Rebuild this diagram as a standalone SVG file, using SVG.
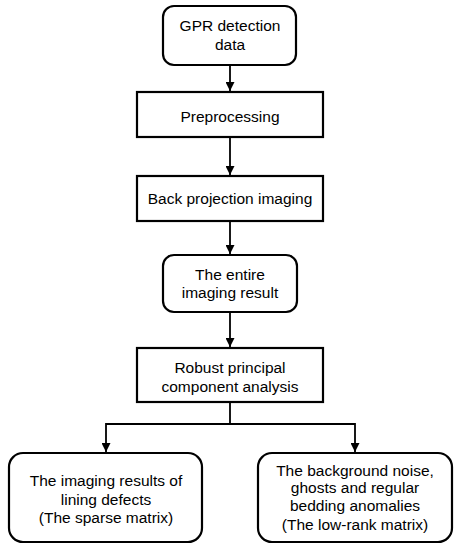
<svg xmlns="http://www.w3.org/2000/svg" width="458" height="550" viewBox="0 0 458 550">
<style>
.box{fill:#fff;stroke:#000;stroke-width:2.2}
.t{font-family:"Liberation Sans",Arial,sans-serif;font-size:15.5px;fill:#000;text-anchor:middle}
.c{fill:none;stroke:#000;stroke-width:1.8}
</style>
<defs>
<marker id="ah" viewBox="0 0 10 10" refX="10" refY="5" markerWidth="5" markerHeight="5" orient="auto" markerUnits="strokeWidth">
<path d="M0,0 L10,5 L0,10 z" fill="#000"/>
</marker>
</defs>
<rect width="458" height="550" fill="#fff"/>
<g id="connectors">
<line class="c" x1="230" y1="65" x2="230" y2="91" marker-end="url(#ah)"/>
<line class="c" x1="230" y1="137" x2="230" y2="175" marker-end="url(#ah)"/>
<line class="c" x1="230" y1="221" x2="230" y2="254" marker-end="url(#ah)"/>
<line class="c" x1="230" y1="312" x2="230" y2="347" marker-end="url(#ah)"/>
<polyline class="c" points="230,402 230,424 106,424 106,452" marker-end="url(#ah)"/>
<polyline class="c" points="230,424 355,424 355,452" marker-end="url(#ah)"/>
</g>
<g id="n1">
<rect class="box" x="163" y="6" width="133" height="59" rx="11"/>
<text class="t" x="230" y="31">GPR detection</text>
<text class="t" x="230" y="50">data</text>
</g>
<g id="n2">
<rect class="box" x="137" y="92" width="186" height="45"/>
<text class="t" x="230" y="122">Preprocessing</text>
</g>
<g id="n3">
<rect class="box" x="137" y="176" width="186" height="45"/>
<text class="t" x="230" y="204">Back projection imaging</text>
</g>
<g id="n4">
<rect class="box" x="163" y="255" width="134" height="57" rx="11"/>
<text class="t" x="230" y="280">The entire</text>
<text class="t" x="230" y="298">imaging result</text>
</g>
<g id="n5">
<rect class="box" x="137" y="348" width="186" height="54"/>
<text class="t" x="230" y="373">Robust principal</text>
<text class="t" x="230" y="392">component analysis</text>
</g>
<g id="n6">
<rect class="box" x="9" y="453" width="193" height="89" rx="14"/>
<text class="t" x="106" y="486">The imaging results of</text>
<text class="t" x="106" y="505">lining defects</text>
<text class="t" x="106" y="523">(The sparse matrix)</text>
</g>
<g id="n7">
<rect class="box" x="258" y="453" width="194" height="89" rx="14"/>
<text class="t" x="355" y="476">The background noise,</text>
<text class="t" x="355" y="493">ghosts and regular</text>
<text class="t" x="355" y="511">bedding anomalies</text>
<text class="t" x="355" y="530">(The low-rank matrix)</text>
</g>
</svg>
